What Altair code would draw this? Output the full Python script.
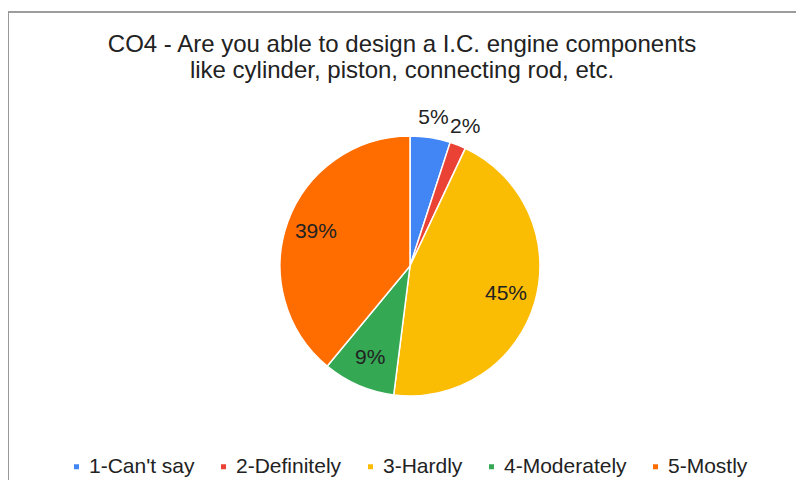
import altair as alt
import pandas as pd

categories = ["1-Can't say", "2-Definitely", "3-Hardly", "4-Moderately", "5-Mostly"]
percents = [5, 2, 45, 9, 39]
colors = ["#4285F4", "#EA4335", "#FBBC04", "#34A853", "#FF6D01"]

df = pd.DataFrame({"cat": categories, "pct": percents, "idx": list(range(len(categories)))})

CX, CY = 402, 254
FONT = "Liberation Sans"

base = alt.Chart(df).encode(
    theta=alt.Theta("pct:Q", stack=True),
    order=alt.Order("idx:Q"),
    x=alt.value(CX),
    y=alt.value(CY),
)

arcs = base.mark_arc(radius=130, stroke="white", strokeWidth=1.5).encode(
    color=alt.Color(
        "cat:N",
        scale=alt.Scale(domain=categories, range=colors),
        sort=categories,
        legend=alt.Legend(
            title=None,
            orient="none",
            direction="horizontal",
            columns=5,
            legendX=58,
            legendY=444,
            symbolType="square",
            symbolSize=25,
            symbolStrokeWidth=0,
            labelFontSize=21,
            labelFont=FONT,
            labelColor="#222222",
            labelOffset=2,
            columnPadding=18,
        ),
    )
)

inside = base.transform_calculate(
    lab="datum.pct >= 8 ? datum.pct + '%' : ''"
).mark_text(radius=100, fontSize=21, font=FONT, color="#222222").encode(text="lab:N")

outside = base.transform_calculate(
    lab="datum.pct < 8 ? datum.pct + '%' : ''"
).mark_text(radius=150, fontSize=21, font=FONT, color="#222222").encode(text="lab:N")

border_top = alt.Chart(df).mark_rule(color="#999999", strokeWidth=1).encode(
    x=alt.value(-4), x2=alt.value(800), y=alt.value(0)
)
border_left = alt.Chart(df).mark_rule(color="#999999", strokeWidth=1).encode(
    x=alt.value(0.5), y=alt.value(0), y2=alt.value(480)
)

chart = alt.layer(border_top, border_left, arcs, inside, outside).properties(
    width=788,
    height=468,
    autosize=alt.AutoSizeParams(type="none"),
    padding={"top": 4, "left": 0, "right": 0, "bottom": 0},
    title=alt.TitleParams(
        text=["CO4 - Are you able to design a I.C. engine components",
              "like cylinder, piston, connecting rod, etc."],
        fontSize=24,
        font=FONT,
        fontWeight="normal",
        color="#222222",
        anchor="middle",
        lineHeight=26,
        offset=-71,
    ),
).configure_view(stroke=None)

chart.save("out.html", embed_options={"renderer": "svg", "actions": False})
